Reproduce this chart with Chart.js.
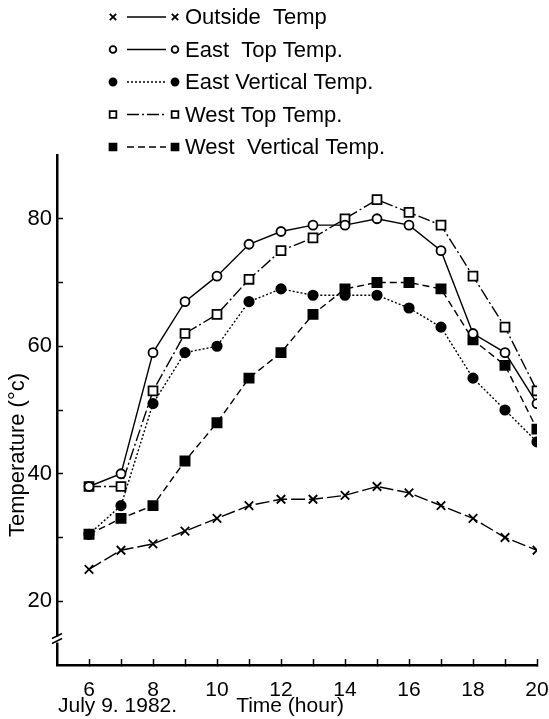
<!DOCTYPE html>
<html>
<head>
<meta charset="utf-8">
<script src="https://cdn.jsdelivr.net/npm/chart.js@4.4.1/dist/chart.umd.min.js"></script>
<style>
html,body{margin:0;padding:0;background:#fff}
#wrap{width:549px;height:719px}
</style>
</head>
<body>
<div id="wrap"><canvas id="c"></canvas></div>
<script>
// hours of the day, July 9 1982
const hours=[6,7,8,9,10,11,12,13,14,15,16,17,18,19,20];
const outsideTemp=[25,28,29,31,33,35,36,36,36.6,38,37,35,33,30,28];
const eastTop=[38,40,59,67,71,76,78,79,79,80,79,75,62,59,51];
const eastVertical=[30.5,35,51,59,60,67,69,68,68,68,66,63,55,50,45];
const westTop=[38,38,53,62,65,70.5,75,77,80,83,81,79,71,63,53];
const westVertical=[30.5,33,35,42,48,55,59,65,69,70,70,69,61,57,47];
const seriesNames=['Outside  Temp','East  Top Temp.','East Vertical Temp.','West Top Temp.','West  Vertical Temp.'];
const yTicks=[20,30,40,50,60,70,80];
const yLabels=[20,40,60,80];
const xLabels=[6,8,10,12,14,16,18,20];

const FONT="'Liberation Sans',Arial,sans-serif";

function pts(vals){ return hours.map((h,i)=>({x:h,y:vals[i]})); }

function ds(label,vals,style,filled,dash,radius){
    return {
        label:label,
        data:pts(vals),
        borderColor:'#000',
        borderWidth:1.4,
        borderDash:dash,
        pointStyle:style,
        pointRadius:radius,
        pointBorderWidth:1.8,
        pointBorderColor:'#000',
        pointBackgroundColor:filled?'#000':'#fff',
        fill:false,
        tension:0
    };
}

const datasets=[
    ds(seriesNames[0],outsideTemp,'crossRot',false,[14,4],6),
    ds(seriesNames[1],eastTop,'circle',false,[],4.5),
    ds(seriesNames[2],eastVertical,'circle',true,[2,2],4.7),
    ds(seriesNames[3],westTop,'rect',false,[12,3,2,3],6.3),
    ds(seriesNames[4],westVertical,'rect',true,[7,4],6.5)
];

// legend, axis titles and the axis break
const extras={
    id:'extras',
    afterDraw(chart){
        const ctx=chart.ctx;
        const y=chart.scales.y;
        ctx.save();
        // legend rows
        chart.data.datasets.forEach((d,i)=>{
            const ry=17+i*32.5;
            ctx.strokeStyle='#000';
            ctx.lineWidth=1.4;
            ctx.setLineDash(i===0?[]:d.borderDash);
            ctx.beginPath();
            ctx.moveTo(127,ry);
            ctx.lineTo(166,ry);
            ctx.stroke();
            ctx.setLineDash([]);
            const o={pointStyle:d.pointStyle,radius:d.pointRadius*0.75,borderWidth:d.pointBorderWidth,rotation:0};
            ctx.fillStyle=d.pointBackgroundColor;
            ctx.strokeStyle='#000';
            ctx.lineWidth=d.pointBorderWidth;
            Chart.helpers.drawPoint(ctx,o,113,ry);
            ctx.fillStyle=d.pointBackgroundColor;
            Chart.helpers.drawPoint(ctx,o,175,ry);
            ctx.fillStyle='#000';
            ctx.font='22px '+FONT;
            ctx.textBaseline='middle';
            ctx.textAlign='left';
            ctx.fillText(d.label,185,ry+1);
        });
        // y title
        ctx.fillStyle='#000';
        ctx.font='22px '+FONT;
        ctx.translate(18,455);
        ctx.rotate(-Math.PI/2);
        ctx.textAlign='center';
        ctx.textBaseline='middle';
        ctx.fillText('Temperature (°c)',0,0);
        ctx.setTransform(1,0,0,1,0,0);
        // x titles
        ctx.font='21px '+FONT;
        ctx.textAlign='left';
        ctx.fillText('July 9. 1982.',58,706);
        ctx.textAlign='center';
        ctx.fillText('Time (hour)',290,706);
        // axis break
        const by=y.getPixelForValue(14);
        const ax=y.right;
        ctx.fillStyle='#fff';
        ctx.fillRect(ax-3,by-3,6,6);
        ctx.strokeStyle='#000';
        ctx.lineWidth=1.5;
        ctx.beginPath();
        ctx.moveTo(ax-5,by-1);ctx.lineTo(ax+5,by-6);
        ctx.moveTo(ax-5,by+4);ctx.lineTo(ax+5,by-1);
        ctx.stroke();
        ctx.restore();
    }
};

new Chart('c',{
    type:'line',
    data:{datasets:datasets},
    options:{
        responsive:true,
        maintainAspectRatio:false,
        animation:false,
        layout:{padding:{left:0,top:155,right:12,bottom:0}},
        plugins:{legend:{display:false},tooltip:{enabled:false}},
        scales:{
            x:{
                type:'linear',
                min:5,max:20,
                afterBuildTicks:a=>{a.ticks=hours.map(v=>({value:v}));},
                afterFit:a=>{a.height=54;a.paddingLeft=0;a.paddingRight=0;},
                grid:{drawOnChartArea:false,tickLength:-6,tickWidth:1.5,tickColor:'#000'},
                border:{color:'#000',width:2.5},
                ticks:{
                    color:'#000',padding:19,maxRotation:0,autoSkip:false,
                    font:{family:FONT,size:21},
                    callback:v=>xLabels.includes(v)?String(v):''
                }
            },
            y:{
                min:10,max:90,
                afterBuildTicks:a=>{a.ticks=yTicks.map(v=>({value:v}));},
                afterFit:a=>{a.width=57;a.paddingTop=0;a.paddingBottom=0;},
                grid:{drawOnChartArea:false,tickLength:-6,tickWidth:1.5,tickColor:'#000'},
                border:{color:'#000',width:2.5},
                ticks:{
                    color:'#000',padding:11,autoSkip:false,
                    font:{family:FONT,size:22},
                    callback:v=>yLabels.includes(v)?String(v):''
                }
            }
        }
    },
    plugins:[extras]
});
</script>
</body>
</html>
